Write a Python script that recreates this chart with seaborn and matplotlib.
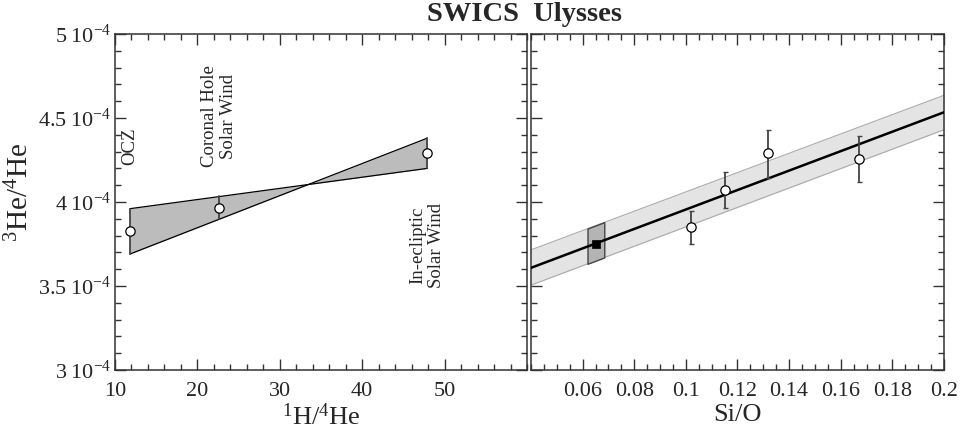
import matplotlib
matplotlib.use("Agg")
import matplotlib.pyplot as plt
import numpy as np
import pandas as pd
import seaborn as sns
from matplotlib.ticker import MultipleLocator, FixedLocator

# left panel: 3He/4He against 1H/4He
h_he = [11.8, 22.6, 47.9]
he3_he4_left = [3.83e-4, 3.965e-4, 4.29e-4]
region_names = ["OCZ", "Coronal Hole\nSolar Wind", "In-ecliptic\nSolar Wind"]
region_text_y = [4.33e-4, 4.51e-4, 3.74e-4]
wedge_x = [11.8, 47.9]
wedge_a = [3.96e-4, 4.20e-4]
wedge_b = [3.69e-4, 4.38e-4]
mid_bar = [3.896e-4, 4.034e-4]

# right panel: 3He/4He against Si/O
si_o = [0.1019, 0.1151, 0.132, 0.1671]
he3_he4_right = [3.85e-4, 4.07e-4, 4.29e-4, 4.256e-4]
err_lo = [3.75e-4, 3.964e-4, 4.144e-4, 4.118e-4]
err_hi = [3.945e-4, 4.176e-4, 4.429e-4, 4.391e-4]
fit_x = [0.04, 0.2]
fit_y = [3.608e-4, 4.534e-4]
band_lo = [3.505e-4, 4.43e-4]
band_hi = [3.715e-4, 4.635e-4]
ocz_x = 0.0652
ocz_y = 3.752e-4
ocz_box_x = [0.0619, 0.0684]
ocz_box_lo = [3.632e-4, 3.670e-4]
ocz_box_hi = [3.842e-4, 3.880e-4]

y_ticks = [3e-4, 3.5e-4, 4e-4, 4.5e-4, 5e-4]
y_labels = [r"$3\;10^{-4}$", r"$3.5\;10^{-4}$", r"$4\;10^{-4}$",
            r"$4.5\;10^{-4}$", r"$5\;10^{-4}$"]
left_xticks = [10, 20, 30, 40, 50]
right_xticks = [0.06, 0.08, 0.1, 0.12, 0.14, 0.16, 0.18, 0.2]
right_xlabels = ["0.06", "0.08", "0.1", "0.12", "0.14", "0.16", "0.18", "0.2"]

sns.set_theme(style="ticks")
plt.rcParams["font.family"] = ["Liberation Serif", "DejaVu Serif"]
plt.rcParams["mathtext.fontset"] = "custom"
plt.rcParams["mathtext.rm"] = "Liberation Serif"
plt.rcParams["mathtext.it"] = "Liberation Serif:italic"
plt.rcParams["mathtext.bf"] = "Liberation Serif:bold"
plt.rcParams["mathtext.default"] = "regular"

fig = plt.figure(figsize=(9.6, 4.34), dpi=100)
ax1 = fig.add_axes([0.1198, 0.1475, 0.4292, 0.7742])
ax2 = fig.add_axes([0.5531, 0.1475, 0.4302, 0.7742])

edge = "#444444"

# left: bow-tie region
ax1.fill_between(wedge_x, wedge_a, wedge_b, color="#bcbcbc", lw=0, zorder=1)
sns.lineplot(x=wedge_x, y=wedge_a, ax=ax1, color="black", lw=0.9, zorder=2)
sns.lineplot(x=wedge_x, y=wedge_b, ax=ax1, color="black", lw=0.9, zorder=2)
for i in (0, 1):
    ax1.plot([wedge_x[i], wedge_x[i]], [wedge_a[i], wedge_b[i]], color=edge, lw=1.3, zorder=2)
ax1.plot([h_he[1], h_he[1]], mid_bar, color=edge, lw=1.3, zorder=2)
sns.scatterplot(x=h_he, y=he3_he4_left, ax=ax1, marker="o", s=45,
                facecolor="white", edgecolor="black", linewidth=0.9, zorder=3)
for xx, yy, name in zip(h_he, region_text_y, region_names):
    ax1.text(xx, yy, name, rotation=90, ha="center", va="center",
             fontsize=13.5, linespacing=1.15)

# right: fit line, band, data
ax2.fill_between(fit_x, band_lo, band_hi, color="#e4e4e4", lw=0, zorder=1)
ax2.plot(fit_x, band_lo, color="#aaaaaa", lw=0.8, zorder=1)
ax2.plot(fit_x, band_hi, color="#aaaaaa", lw=0.8, zorder=1)
ax2.fill_between(ocz_box_x, ocz_box_lo, ocz_box_hi, color="#b4b4b4",
                 edgecolor=edge, lw=1.0, zorder=2)
sns.lineplot(x=fit_x, y=fit_y, ax=ax2, color="black", lw=1.8, zorder=3)
yerr = [np.array(he3_he4_right) - np.array(err_lo), np.array(err_hi) - np.array(he3_he4_right)]
ax2.errorbar(si_o, he3_he4_right, yerr=yerr, fmt="none", ecolor=edge,
             elinewidth=1.3, capsize=1.8, capthick=1.0, zorder=4)
sns.scatterplot(x=si_o, y=he3_he4_right, ax=ax2, marker="o", s=45,
                facecolor="white", edgecolor="black", linewidth=0.9, zorder=5)
sns.scatterplot(x=[ocz_x], y=[ocz_y], ax=ax2, marker="s", s=38,
                color="black", edgecolor="black", zorder=5)

for ax in (ax1, ax2):
    ax.set_ylim(3e-4, 5e-4)
    ax.yaxis.set_major_locator(FixedLocator(y_ticks))
    ax.yaxis.set_minor_locator(MultipleLocator(0.1e-4))
    ax.tick_params(which="both", direction="in", top=True, right=True,
                   color="#333333", labelsize=16)
    ax.tick_params(which="major", length=8, width=1.0)
    ax.tick_params(which="minor", length=4.5, width=1.0)
    ax.tick_params(axis="x", which="major", pad=8.5)
    ax.tick_params(axis="y", which="major", pad=3)
    for s in ax.spines.values():
        s.set_color("#333333")
        s.set_linewidth(1.1)

ax1.set_xlim(10, 60)
ax1.set_xticks(left_xticks)
ax1.xaxis.set_minor_locator(MultipleLocator(2))
ax1.set_yticks(y_ticks)
ax1.set_yticklabels(y_labels)
ax1.set_xlabel("$^{1}$H/$^{4}$He", fontsize=19, labelpad=2)
ax1.set_ylabel("$^{3}$He/$^{4}$He", fontsize=21)
ax1.yaxis.set_label_coords(-0.195, 0.53)

ax2.set_xlim(0.04, 0.2)
ax2.set_xticks(right_xticks)
ax2.set_xticklabels(right_xlabels)
ax2.xaxis.set_minor_locator(MultipleLocator(0.005))
ax2.set_yticklabels([])
ax2.set_xlabel("Si/O", fontsize=19, labelpad=2)

fig.text(0.546, 0.966, "SWICS  Ulysses", ha="center", va="center",
         fontsize=20.5, fontweight="bold")

fig.savefig("out.png", dpi=100)
